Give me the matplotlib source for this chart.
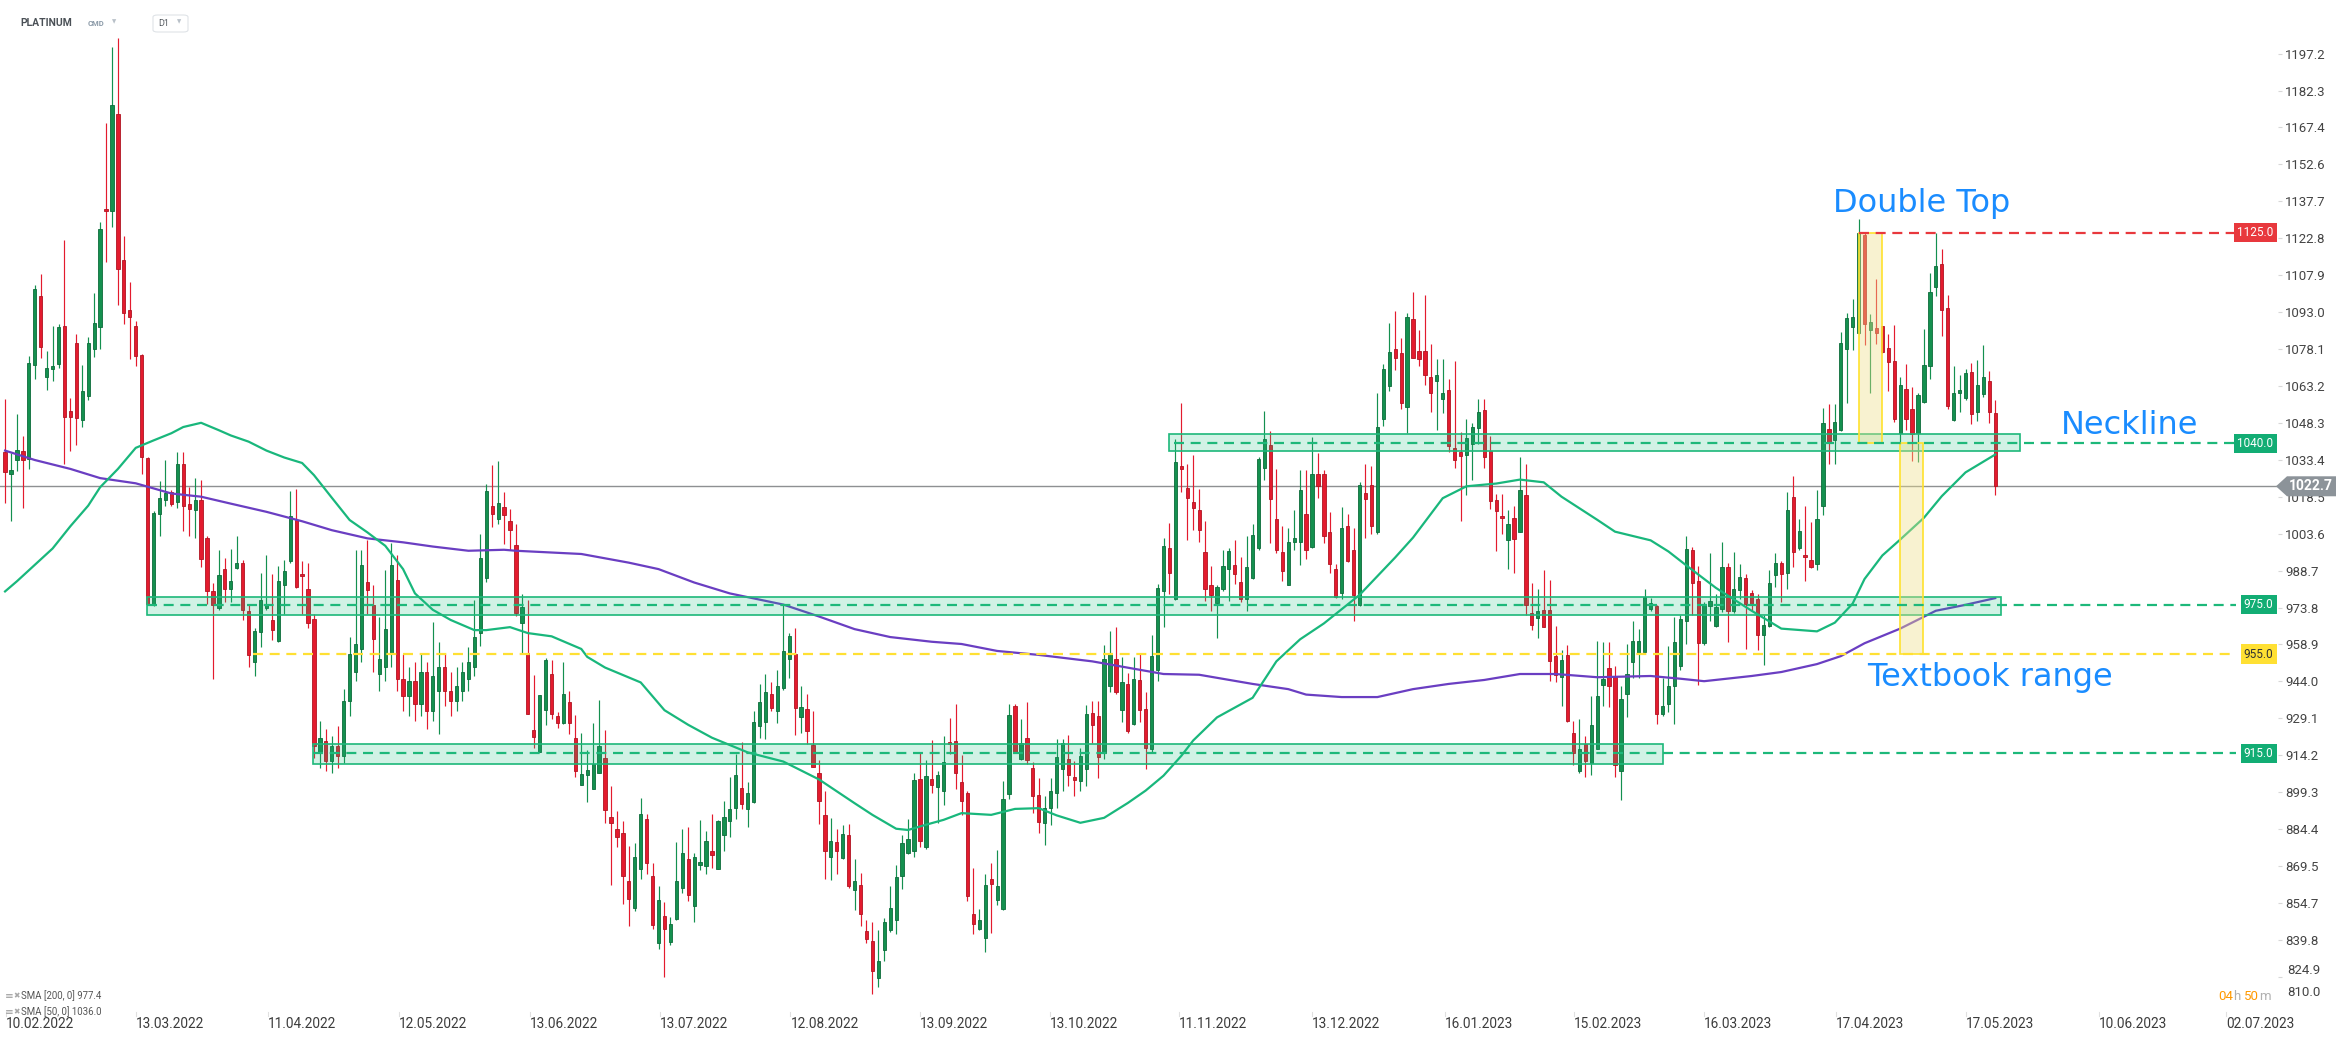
import matplotlib
matplotlib.use('Agg')
import matplotlib.pyplot as plt
import matplotlib.transforms as mtransforms
from matplotlib.patches import Rectangle, Polygon, FancyBboxPatch
import numpy as np

# daily candles, PLATINUM D1
opens = [
    1036.7, 1027.5, 1033.3, 1036.9, 1033.8, 1071.5, 1099.3, 1066.7, 1070.0, 1072.1,
    1087.3, 1053.0, 1080.4, 1049.4, 1059.3, 1078.2, 1086.8, 1134.5, 1133.7, 1172.7,
    1113.8, 1093.7, 1087.3, 1075.7, 1034.3, 975.4, 1011.6, 1017.3, 1020.3, 1016.5,
    1031.6, 1015.7, 1013.2, 1017.3, 1001.7, 980.3, 973.7, 989.4, 981.1, 989.8,
    991.8, 972.4, 952.0, 963.8, 973.7, 968.8, 960.5, 982.8, 992.6, 1009.1,
    987.4, 981.1, 969.0, 915, 920, 912, 918, 914, 936, 948,
    957, 984, 975, 947, 950, 955, 985, 945, 938, 944,
    935, 948, 932, 940, 950, 940, 936, 940, 945, 950,
    963.5, 985.8, 1014.8, 1009.7, 1014.5, 1008.6, 998.9, 967.5, 955.5, 924.4,
    915.7, 932.4, 947.2, 930.0, 927.1, 935.6, 921.3, 902.1, 906.4, 900.6,
    906.9, 913.0, 889.4, 884.6, 882.7, 863.4, 852.7, 868.3, 888.6, 865.4,
    838.4, 849.5, 839.1, 848.4, 860.7, 872.6, 853.5, 869.8, 869.4, 875.8,
    868.2, 882.2, 887.8, 893.0, 900.9, 892.6, 895.3, 926.1, 927.6, 939.1,
    931.9, 941.2, 953.1, 955.1, 929.6, 932.9, 918.5, 907.2, 890.2, 873.4,
    879.3, 873.0, 881.9, 859.9, 861.8, 843.4, 839.5, 824.5, 835.9, 843.9,
    847.9, 865.4, 875.0, 875.8, 904.8, 877.4, 904.5, 901.3, 900.0, 919.7,
    920.0, 903.3, 898.9, 850.3, 844.2, 840.4, 864.3, 855.9, 852.2, 898.5,
    934.0, 912.8, 921.3, 909.0, 898.2, 887.0, 893.0, 899.0, 908.7, 912.7,
    905.5, 904.0, 908.7, 931.4, 930.2, 915.1, 942.2, 953.0, 932.6, 943.0,
    927.0, 944.6, 932.9, 916.7, 948.6, 980.5, 997.7, 977.3, 1030.7, 1021.9,
    1016.3, 1013.2, 996.4, 982.9, 975.7, 981.3, 989.3, 990.8, 984.0, 977.3,
    985.6, 998.0, 1029.9, 1039.2, 1009.5, 996.4, 982.9, 1000.4, 1000.4, 1011.6,
    998.3, 1027.5, 1027.5, 1004.1, 989.2, 979.7, 1006.8, 997.2, 974.9, 1020.0,
    1023.2, 1004.4, 1049.8, 1063.1, 1078.0, 1076.5, 1054.6, 1090.2, 1077.4, 1077.3,
    1066.6, 1065.0, 1057.8, 1061.5, 1038.2, 1036.6, 1035.5, 1039.8, 1046.2, 1053.5,
    1037.1, 1017.1, 1010.8, 1000.9, 1010.0, 1004.4, 1019.0, 971.7, 969.6, 972.8,
    972.8, 954.2, 945.7, 954.6, 923.1, 907.9, 918.6, 911.1, 916.7, 942.5,
    949.4, 945.7, 908.0, 939.0, 951.8, 955.0, 955.8, 973.3, 974.4, 930.7,
    935.0, 942.2, 950.2, 968.5, 997.2, 984.5, 959.4, 974.4, 966.4, 973.3,
    990.0, 972.5, 980.8, 985.6, 979.7, 977.3, 962.9, 966.4, 986.8, 991.6,
    987.6, 1018.4, 998.0, 995.1, 992.9, 991.3, 1014.8, 1045.8, 1041.4, 1045.5,
    1078.0, 1087.0, 1084.4, 1124.0, 1085.7, 1086.5, 1087.3, 1078.5, 1073.3, 1044.2,
    1062.1, 1053.8, 1044.2, 1056.7, 1071.4, 1103.2, 1112.5, 1094.5, 1049.4, 1060.5,
    1058.3, 1068.6, 1052.5, 1059.9, 1065.0, 1052.2,
]
highs = [
    1058.1, 1036.3, 1051.7, 1042.8, 1075.4, 1103.7, 1108.3, 1077.1, 1087.3, 1088.1,
    1122.2, 1058.5, 1084.0, 1071.6, 1082.8, 1100.6, 1129.4, 1169.2, 1200.0, 1203.6,
    1123.5, 1105.0, 1089.2, 1076.1, 1034.6, 1012.7, 1024.7, 1033.3, 1021.4, 1036.6,
    1036.6, 1022.3, 1026.0, 1025.1, 1002.5, 983.6, 997.2, 993.8, 997.6, 1002.5,
    993.1, 975.4, 965.5, 987.7, 995.1, 987.4, 990.5, 993.1, 1020.6, 1021.8,
    992.6, 991.8, 971.0, 928, 925, 922, 926, 941, 962, 997,
    997, 1001, 983, 970, 989, 1000, 995, 955, 950, 952,
    955, 952, 968, 960, 955, 948, 950, 952, 958, 977,
    1003.4, 1023.8, 1031.3, 1032.9, 1020.4, 1013.7, 1007.4, 979.1, 977.0, 946.8,
    938.5, 953.5, 952.7, 931.6, 952.0, 940.1, 930.3, 923.1, 916.5, 927.3,
    936.7, 924.5, 901.7, 891.8, 887.8, 877.7, 878.7, 897.0, 890.5, 870.7,
    861.5, 855.1, 849.0, 879.3, 884.6, 885.4, 875.0, 888.3, 883.8, 890.6,
    888.3, 895.8, 905.3, 914.9, 919.7, 903.3, 931.9, 943.1, 947.2, 943.6,
    948.8, 974.7, 963.5, 965.4, 942.0, 938.8, 932.1, 912.5, 899.7, 888.9,
    884.6, 886.2, 886.7, 872.3, 866.6, 847.9, 846.8, 843.9, 848.7, 861.5,
    869.8, 882.2, 888.6, 906.9, 915.7, 912.2, 920.5, 907.7, 922.1, 929.2,
    935.1, 914.4, 899.7, 868.6, 852.2, 866.2, 870.7, 876.1, 903.7, 935.1,
    935.0, 928.7, 935.6, 911.7, 905.0, 898.0, 905.0, 920.7, 920.7, 922.3,
    911.9, 917.0, 934.5, 936.1, 936.1, 958.5, 964.5, 965.8, 953.7, 947.3,
    953.7, 955.0, 939.8, 962.9, 983.3, 1002.0, 1007.9, 1041.9, 1056.2, 1031.5,
    1035.5, 1021.6, 1008.8, 990.4, 983.0, 997.2, 997.7, 1000.9, 994.0, 1002.5,
    1007.6, 1034.7, 1053.0, 1045.0, 1029.6, 1006.8, 1006.0, 1013.2, 1029.1, 1029.1,
    1042.7, 1036.0, 1029.1, 1012.4, 991.3, 1014.3, 1011.6, 1006.0, 1024.3, 1031.5,
    1030.7, 1060.2, 1072.2, 1088.6, 1093.4, 1082.5, 1092.4, 1100.9, 1085.7, 1100.0,
    1080.1, 1074.2, 1074.1, 1065.8, 1073.3, 1044.6, 1049.8, 1048.2, 1057.8, 1057.8,
    1043.0, 1019.5, 1019.5, 1013.2, 1014.8, 1034.7, 1031.5, 983.7, 981.3, 988.8,
    985.0, 966.4, 956.6, 958.5, 928.2, 928.7, 921.8, 938.2, 960.5, 960.1,
    959.8, 950.2, 942.2, 959.0, 968.5, 965.3, 981.3, 977.6, 974.9, 945.4,
    958.1, 970.1, 970.9, 1002.5, 998.3, 990.4, 976.0, 995.6, 979.2, 1000.4,
    991.9, 996.4, 991.3, 987.2, 980.8, 979.2, 970.9, 988.8, 995.6, 992.4,
    1020.3, 1026.7, 1009.5, 1014.8, 1008.4, 1021.1, 1054.1, 1055.7, 1055.7, 1084.9,
    1092.4, 1098.1, 1130.3, 1124.8, 1092.1, 1106.1, 1087.3, 1084.1, 1087.6, 1066.6,
    1072.2, 1062.6, 1060.2, 1086.0, 1108.8, 1124.8, 1118.4, 1099.7, 1071.3, 1067.4,
    1070.1, 1072.6, 1073.8, 1079.6, 1069.0, 1057.3,
]
lows = [
    1016.0, 1008.6, 1028.8, 1013.9, 1029.7, 1065.9, 1074.4, 1061.4, 1065.0, 1070.5,
    1031.6, 1037.1, 1039.5, 1046.5, 1057.6, 1074.9, 1078.2, 1113.3, 1127.1, 1096.0,
    1088.1, 1074.1, 1071.1, 1027.5, 975.0, 974.5, 1002.8, 1014.9, 1014.9, 1014.0,
    1004.6, 1002.5, 1002.0, 990.2, 975.4, 945.0, 972.9, 976.2, 976.2, 989.4,
    968.8, 950.0, 946.0, 958.0, 972.9, 960.6, 960.0, 971.2, 991.8, 981.6,
    971.2, 965.5, 913.0, 909, 908, 907, 909, 911, 930, 944,
    952, 971, 948, 940, 944, 950, 940, 932, 930, 928,
    930, 925, 928, 923, 934, 930, 932, 936, 940, 946,
    958.4, 984.2, 1006.2, 1007.4, 999.4, 997.0, 970.2, 955.5, 930.8, 917.3,
    915.7, 926.4, 928.9, 925.2, 926.8, 922.9, 905.3, 902.1, 895.3, 900.6,
    906.9, 887.0, 861.8, 877.4, 854.3, 845.5, 851.4, 864.3, 866.2, 844.2,
    836.3, 824.8, 837.6, 847.9, 858.6, 855.4, 847.1, 867.8, 866.2, 868.6,
    868.2, 875.8, 881.4, 888.6, 892.6, 885.4, 894.9, 921.3, 920.8, 931.9,
    927.2, 940.4, 945.2, 922.5, 923.3, 918.9, 909.3, 886.7, 864.2, 863.9,
    866.2, 872.6, 860.7, 851.9, 845.5, 838.4, 818.1, 820.8, 831.2, 843.1,
    842.3, 860.2, 874.5, 873.4, 877.1, 876.6, 898.9, 887.0, 894.2, 914.9,
    900.6, 890.2, 855.4, 842.0, 843.9, 835.0, 842.6, 853.8, 851.9, 896.6,
    915.3, 912.2, 910.9, 891.0, 883.0, 878.0, 886.0, 893.0, 900.0, 902.0,
    898.0, 900.0, 902.0, 919.1, 905.0, 912.7, 939.8, 939.0, 927.8, 923.4,
    926.6, 927.8, 908.7, 915.1, 944.1, 966.1, 979.2, 977.0, 1020.3, 1000.9,
    1005.2, 1000.4, 976.5, 972.5, 961.7, 980.5, 976.5, 983.3, 976.0, 972.5,
    985.3, 997.2, 1025.1, 999.9, 995.6, 984.5, 982.9, 997.2, 990.8, 993.2,
    998.0, 1017.9, 999.9, 987.6, 977.6, 977.3, 992.0, 968.5, 974.4, 1002.0,
    1003.6, 1003.6, 1047.1, 1061.0, 1069.4, 1053.8, 1044.2, 1074.5, 1071.3, 1063.7,
    1052.5, 1045.5, 1052.2, 1036.6, 1030.2, 1008.9, 1019.0, 1025.4, 1039.8, 1029.9,
    1013.6, 996.7, 1003.6, 989.2, 987.6, 1004.1, 970.9, 964.8, 961.7, 965.8,
    944.1, 943.8, 933.9, 927.8, 910.3, 907.1, 905.5, 906.3, 916.7, 934.2,
    933.8, 905.5, 896.0, 929.8, 945.4, 945.4, 955.8, 972.5, 927.0, 930.2,
    931.8, 927.0, 948.6, 959.0, 970.6, 942.5, 958.5, 968.5, 966.1, 972.2,
    960.1, 971.7, 977.3, 956.9, 972.5, 956.6, 950.5, 966.1, 982.1, 976.0,
    981.3, 990.0, 997.2, 984.5, 989.7, 988.8, 1011.1, 1031.8, 1031.5, 1045.0,
    1056.2, 1077.7, 1084.1, 1079.6, 1060.5, 1080.1, 1076.5, 1061.0, 1048.7, 1039.8,
    1045.5, 1032.8, 1032.3, 1056.2, 1065.8, 1099.3, 1083.3, 1053.8, 1049.0, 1052.5,
    1057.3, 1047.8, 1049.0, 1058.9, 1048.2, 1019.0,
]
closes = [
    1028.3, 1029.2, 1037.4, 1033.3, 1072.5, 1102.1, 1079.0, 1070.5, 1071.1, 1086.9,
    1050.7, 1050.7, 1050.4, 1061.3, 1080.4, 1088.6, 1126.3, 1133.7, 1176.6, 1110.3,
    1092.7, 1091.1, 1075.4, 1034.6, 975.4, 1011.9, 1017.8, 1019.8, 1015.7, 1031.6,
    1014.9, 1013.5, 1017.3, 993.5, 980.3, 975.0, 986.9, 981.1, 984.4, 991.8,
    972.9, 954.8, 964.2, 977.0, 975.4, 964.7, 984.4, 988.5, 1010.7, 981.9,
    986.4, 967.5, 918.0, 921, 912, 918, 914, 936, 955, 959,
    991, 981, 961, 953, 965, 991, 945, 938, 944, 935,
    948, 932, 946, 950, 940, 936, 942, 948, 952, 962,
    993.8, 1020.6, 1011.7, 1016.1, 1011.0, 1005.0, 971.8, 973.9, 930.8, 921.7,
    938.5, 952.7, 930.8, 927.1, 939.1, 927.1, 908.0, 906.6, 908.2, 910.9,
    917.8, 892.2, 887.0, 881.4, 865.4, 856.4, 873.4, 890.5, 870.7, 845.8,
    855.9, 844.2, 846.3, 863.4, 875.0, 857.8, 873.4, 871.0, 879.8, 873.9,
    887.8, 889.4, 892.6, 906.1, 894.6, 898.9, 927.6, 935.6, 939.9, 933.2,
    942.0, 956.3, 962.2, 933.2, 933.5, 924.0, 909.3, 895.8, 875.5, 879.8,
    875.8, 882.5, 861.5, 863.4, 850.3, 840.3, 827.2, 831.2, 846.8, 852.7,
    865.0, 879.0, 880.6, 904.2, 879.8, 905.8, 902.1, 906.1, 911.7, 918.9,
    906.9, 895.8, 857.5, 846.3, 847.9, 862.0, 862.3, 861.5, 896.6, 930.3,
    915.7, 919.2, 912.2, 897.8, 887.3, 893.0, 900.0, 913.5, 919.1, 906.3,
    904.2, 913.8, 931.0, 926.3, 913.5, 953.0, 955.0, 939.8, 943.8, 923.9,
    945.1, 932.3, 917.0, 954.2, 981.7, 998.8, 987.6, 1032.3, 1029.6, 1017.9,
    1013.9, 1005.2, 981.3, 978.9, 982.1, 990.4, 996.7, 987.2, 977.3, 990.0,
    1003.1, 1033.9, 1041.9, 1017.5, 997.2, 988.4, 1000.4, 1002.0, 1021.1, 997.2,
    1027.5, 1022.7, 1002.5, 991.3, 978.1, 1005.7, 992.4, 978.9, 1023.2, 1017.5,
    1006.8, 1046.6, 1069.8, 1076.9, 1074.5, 1056.2, 1090.8, 1074.5, 1074.2, 1067.4,
    1060.5, 1067.4, 1060.5, 1039.1, 1033.4, 1035.0, 1042.3, 1046.6, 1052.5, 1034.4,
    1016.8, 1012.7, 1010.0, 1007.3, 1001.5, 1021.1, 974.9, 966.9, 972.5, 966.1,
    952.1, 946.7, 952.6, 928.2, 915.1, 916.7, 911.9, 926.6, 938.2, 945.1,
    942.2, 910.3, 937.1, 947.0, 960.5, 960.5, 978.1, 975.7, 931.0, 934.2,
    942.2, 959.8, 969.0, 997.5, 983.7, 959.4, 975.4, 976.5, 974.1, 990.0,
    972.5, 981.3, 986.0, 975.4, 974.9, 962.9, 966.9, 983.7, 991.6, 987.2,
    1013.2, 996.4, 1004.7, 994.0, 990.0, 1009.5, 1048.2, 1040.7, 1048.7, 1080.6,
    1090.5, 1091.0, 1124.8, 1088.1, 1088.9, 1084.4, 1076.9, 1072.9, 1049.8, 1063.7,
    1049.8, 1043.9, 1059.4, 1071.8, 1100.9, 1111.5, 1093.7, 1055.1, 1060.5, 1061.5,
    1068.2, 1051.9, 1063.4, 1066.6, 1052.5, 1022.7,
]

# moving averages sampled along the chart (bar index, value)
sma50_bar = [0, 2, 5, 8, 11, 14, 16, 19, 22, 25, 28, 30, 33, 36, 38, 41, 44, 47, 50, 52,
             55, 58, 61, 64, 67, 69, 72, 75, 79, 81, 85, 88, 92, 97, 98, 101, 107, 111,
             115, 119, 125, 131, 137, 143, 146, 150, 152, 155, 158, 161, 166, 170, 174,
             177, 181, 185, 189, 192, 195, 198, 200, 204, 210, 214, 218, 222, 228, 234,
             237, 242, 246, 251, 255, 259, 262, 268, 271, 277, 280, 283, 288, 294, 299,
             305, 308, 311, 313, 316, 319, 323, 326, 330, 335]
sma50_val = [980.3, 984.4, 991.0, 997.6, 1006.6, 1014.9, 1022.3, 1029.7, 1038.2, 1041.2,
             1044.1, 1046.6, 1048.3, 1045.3, 1043.2, 1040.7, 1037.1, 1034.3, 1032.1, 1027.2,
             1018.1, 1009.1, 1004.1, 998.7, 989.3, 979.5, 972.9, 968.8, 964.7, 964.7,
             965.9, 963.5, 962.2, 957.1, 953.9, 949.6, 943.6, 932.4, 926.5, 921.3,
             915.4, 911.7, 904.5, 894.9, 890.2, 884.6, 884.1, 886.2, 888.2, 890.9,
             890.2, 892.6, 892.9, 890.0, 887.0, 889.0, 895.0, 900.0, 906.0, 914.0,
             920.2, 929.5, 937.4, 952.1, 961.0, 967.4, 978.9, 994.0, 1002.0, 1017.9,
             1022.7, 1023.8, 1025.4, 1024.3, 1018.5, 1009.2, 1004.4, 1000.9, 996.4, 990.8,
             981.7, 972.5, 965.3, 964.2, 967.7, 975.4, 985.3, 994.8, 1001.2, 1010.0,
             1018.7, 1028.3, 1035.5]
sma200_bar = [0, 5, 11, 16, 22, 28, 33, 38, 44, 50, 55, 61, 67, 72, 78, 84, 86, 97, 105,
              110, 116, 122, 131, 137, 143, 149, 156, 161, 167, 174, 183, 195, 201, 210,
              216, 219, 225, 231, 237, 243, 249, 255, 261, 268, 277, 282, 286, 294, 299,
              305, 309, 313, 319, 325, 330, 335]
sma200_val = [1037.1, 1033.3, 1029.7, 1026.0, 1023.9, 1019.8, 1018.5, 1015.7, 1012.4, 1008.6,
              1005.0, 1001.7, 1000.1, 998.4, 996.7, 997.1, 996.7, 995.4, 991.9, 989.3,
              983.9, 979.5, 975.0, 970.2, 965.1, 961.9, 960.0, 959.1, 956.3, 954.7,
              952.1, 947.0, 946.7, 943.0, 940.9, 938.7, 937.7, 937.7, 940.9, 943.0,
              944.6, 947.0, 947.0, 945.7, 946.2, 945.1, 944.1, 946.2, 947.8, 951.0,
              954.2, 959.4, 965.3, 972.5, 974.9, 977.6]

price_ticks = [1197.2, 1182.3, 1167.4, 1152.6, 1137.7, 1122.8, 1107.9, 1093.0, 1078.1,
               1063.2, 1048.3, 1033.4, 1018.5, 1003.6, 988.7, 973.8, 958.9, 944.0, 929.1,
               914.2, 899.3, 884.4, 869.5, 854.7, 839.8, 824.9]
date_labels = ['10.02.2022', '13.03.2022', '11.04.2022', '12.05.2022', '13.06.2022',
               '13.07.2022', '12.08.2022', '13.09.2022', '13.10.2022', '11.11.2022',
               '13.12.2022', '16.01.2023', '15.02.2023', '16.03.2023', '17.04.2023',
               '17.05.2023', '10.06.2023', '02.07.2023']
date_bars = [0.2, 22.0, 44.3, 66.3, 88.4, 110.3, 132.2, 154.0, 175.9, 197.6, 220.0,
             242.3, 264.1, 286.0, 308.2, 330.1, 352.4, 373.9]

# horizontal levels: (price, colour, start bar) and zones (start bar, end bar, low, high)
levels = [(1125.0, '#e8383d', 312.0), (1040.0, '#1db87a', 196.8),
          (975.0, '#1db87a', 23.9), (955.0, '#ffe033', 41.8), (915.0, '#1db87a', 51.9)]
zones = [(23.9, 336.0, 970.6, 978.1), (196.0, 339.1, 1036.8, 1043.8),
         (51.9, 279.0, 910.6, 918.6)]
yellow_boxes = [(312.0, 316.0, 1040.0, 1125.0), (319.0, 322.9, 955.0, 1040.0)]
last_price = 1022.7

W, H = 2346, 1039
GREEN = '#14904f'
GREEN_EDGE = '#0c6b3a'
RED = '#e31b2e'
RED_EDGE = '#b01422'
SMA50_C = '#19b77c'
SMA200_C = '#6a3ec2'
BLUE = '#1a8cff'
NARROW = ['DejaVu Sans Condensed', 'Roboto', 'DejaVu Sans']

fig = plt.figure(figsize=(W / 100, H / 100), dpi=100)
fig.patch.set_facecolor('white')
ax = fig.add_axes([0, 1 - 1012 / H, 2278 / W, 1012 / H])
ax.set_xlim(-0.85, 382.6)
ax.set_ylim(810.7, 1218.8)
for s in ax.spines.values():
    s.set_visible(False)

n = min(len(opens), len(highs), len(lows), len(closes))
idx = np.arange(n)
o = np.array(opens[:n]); h = np.array(highs[:n])
l = np.array(lows[:n]); c = np.array(closes[:n])
up = c >= o
fill = np.where(up, GREEN, RED)
edge = np.where(up, GREEN_EDGE, RED_EDGE)
ax.vlines(idx, l, h, colors=fill, lw=0.85, zorder=3)
ax.bar(idx, np.maximum(np.abs(c - o), 0.5), bottom=np.minimum(o, c), width=0.55,
       color=fill, edgecolor=edge, lw=0.6, zorder=3)

# moving averages
ax.plot(sma200_bar, sma200_val, color=SMA200_C, lw=1.6, zorder=4)
ax.plot(sma50_bar, sma50_val, color=SMA50_C, lw=1.6, zorder=4)

# current price line
ax.axhline(last_price, color='#8e9092', lw=1.0, zorder=2)

# zones (drawn on top, translucent)
for x0, x1, y0, y1 in zones:
    ax.add_patch(Rectangle((x0, y0), x1 - x0, y1 - y0, facecolor='#1cc07f', alpha=0.2,
                           edgecolor='none', zorder=6))
    ax.add_patch(Rectangle((x0, y0), x1 - x0, y1 - y0, facecolor='none',
                           edgecolor='#1db87a', lw=1.2, zorder=6))
for x0, x1, y0, y1 in yellow_boxes:
    ax.add_patch(Rectangle((x0, y0), x1 - x0, y1 - y0, facecolor='#efe08a', alpha=0.4,
                           edgecolor='none', zorder=6))
    ax.add_patch(Rectangle((x0, y0), x1 - x0, y1 - y0, facecolor='none',
                           edgecolor='#ffe22e', lw=1.2, zorder=6))

right_end = 375.6
for price, col, x0 in levels:
    ax.plot([x0, right_end], [price, price], color=col, lw=1.6,
            linestyle=(0, (4.5, 3)), zorder=7)

# right side value badges
badge_tr = mtransforms.blended_transform_factory(ax.transAxes, ax.transData) + \
    mtransforms.ScaledTranslation(-0.045, 0, fig.dpi_scale_trans)
for price, col, _ in levels:
    tc = '#333333' if col == '#ffe033' else 'white'
    bc = '#12ad74' if col == '#1db87a' else col
    ax.text(1.0, price, f'{price:.1f}', transform=badge_tr, ha='right', va='center',
            fontsize=8.5, color=tc, family='Roboto', zorder=9, clip_on=False,
            bbox=dict(boxstyle='square,pad=0.28', fc=bc, ec='none'))

# price axis (lowest labels are nudged up like on the platform)
ax.yaxis.tick_right()
ax.set_yticks(price_ticks)
ax.set_yticklabels([f'{v:.1f}' for v in price_ticks[:-1]] + [''])
ax.tick_params(axis='y', length=3, width=0.8, color='#d8d8d8', labelcolor='#444444',
               labelsize=9.5, pad=2)
for t in ax.get_yticklabels():
    t.set_family('Roboto')
ax.set_xticks([])
fig.text(2287 / W, 1 - 970 / H, f'{price_ticks[-1]:.1f}', fontsize=9.5, color='#444444',
         family='Roboto', va='center')
fig.text(2287 / W, 1 - 993 / H, '810.0', fontsize=9.5, color='#444444', family='Roboto',
         va='center')

# current price badge
py = ax.transData.transform((0, last_price))[1]
yy = H - py
poly = Polygon([(2276 / W, 1 - yy / H), (2287 / W, 1 - (yy - 10) / H),
                (2336 / W, 1 - (yy - 10) / H), (2336 / W, 1 - (yy + 10) / H),
                (2287 / W, 1 - (yy + 10) / H)], closed=True, transform=fig.transFigure,
               facecolor='#8c9399', edgecolor='none', zorder=10)
fig.add_artist(poly)
fig.text(2311 / W, 1 - yy / H, f'{last_price:.1f}', fontsize=10, fontweight='bold',
         color='white', family='Roboto', ha='center', va='center', zorder=11)

# date axis
date_tr = mtransforms.blended_transform_factory(ax.transData, ax.transAxes)
for b, lab in zip(date_bars, date_labels):
    ax.text(b, -12 / 1012, lab, transform=date_tr, ha='left', va='center', fontsize=9.8,
            color='#3c3c3c', family=NARROW, clip_on=False)
    ax.plot([b, b], [0, -4 / 1012], transform=date_tr, color='#e0e0e0', lw=0.8,
            clip_on=False)

# annotations
ax.text(307.7, 1136.9, 'Double Top', fontsize=23, color=BLUE, va='center', zorder=10)
ax.text(346.0, 1047.4, 'Neckline', fontsize=23, color=BLUE, va='center', zorder=10)
ax.text(313.5, 945.4, 'Textbook range', fontsize=23, color=BLUE, va='center', zorder=10)

# header
fig.text(20 / W, 1 - 23 / H, 'PLATINUM', fontsize=7.5, fontweight='bold', color='#4b5157',
         va='center', family='Roboto')
fig.text(88 / W, 1 - 24 / H, 'CMD', fontsize=5.5, fontweight='bold', color='#8b9aa8',
         va='center', family='Roboto')
fig.text(112 / W, 1 - 22 / H, '▼', fontsize=4, color='#b8c0c8', va='center')
fig.add_artist(FancyBboxPatch((153 / W, 1 - 32 / H), 35 / W, 17 / H,
                              boxstyle='round,pad=0,rounding_size=0.002',
                              transform=fig.transFigure, facecolor='white',
                              edgecolor='#dfe3e7', lw=0.8))
fig.text(158 / W, 1 - 23.5 / H, 'D1', fontsize=6.5, color='#555a60', va='center',
         family='Roboto')
fig.text(177 / W, 1 - 22 / H, '▼', fontsize=4, color='#b8c0c8', va='center')

# indicator legend
for yy_, lab in [(996, 'SMA [200, 0] 977.4'), (1012, 'SMA [50, 0] 1036.0')]:
    fig.text(5 / W, 1 - yy_ / H, '≡', fontsize=7.5, color='#9a9a9a', va='center')
    fig.text(13 / W, 1 - yy_ / H, '✖', fontsize=5.5, color='#a8a8a8', va='center')
    fig.text(21 / W, 1 - yy_ / H, lab, fontsize=6.9, color='#555555', va='center',
             family=NARROW)

# countdown
fig.text(2218 / W, 1 - 997 / H, '04', fontsize=9.5, color='#ff9900', va='center', family='Roboto')
fig.text(2233 / W, 1 - 997 / H, 'h', fontsize=9.5, color='#b0b0b0', va='center', family='Roboto')
fig.text(2244 / W, 1 - 997 / H, '50', fontsize=9.5, color='#ff9900', va='center', family='Roboto')
fig.text(2259 / W, 1 - 997 / H, 'm', fontsize=9.5, color='#b0b0b0', va='center', family='Roboto')

fig.savefig('out.png', dpi=100, facecolor='white')
